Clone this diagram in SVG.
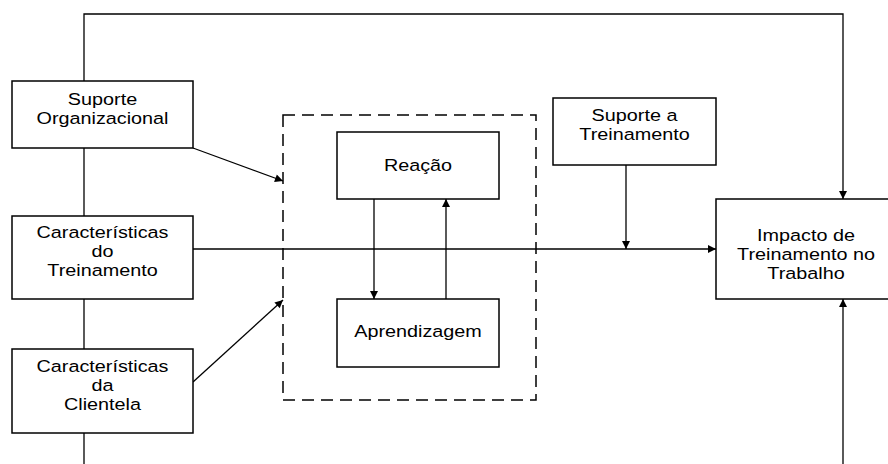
<svg xmlns="http://www.w3.org/2000/svg" width="888" height="464" viewBox="0 0 888 464">
<style>
.box{fill:#fff;stroke:#000;stroke-width:1.5}
.dash{fill:none;stroke:#000;stroke-width:1.5;stroke-dasharray:12 7}
.ln{fill:none;stroke:#000;stroke-width:1.3}
.arr{fill:none;stroke:#000;stroke-width:1.3;marker-end:url(#ah)}
text{font-family:"Liberation Sans",Arial,sans-serif;font-size:16.5px;text-anchor:middle;fill:#000}
</style>
<defs>
<marker id="ah" viewBox="0 0 10 10" refX="10" refY="5" markerWidth="10" markerHeight="8" markerUnits="userSpaceOnUse" orient="auto">
<path d="M0,0 L10,5 L0,10 z" fill="#000"/>
</marker>
</defs>
<rect width="888" height="464" fill="#fff"/>
<g id="connectors">
<polyline class="arr" points="84,81 84,14 843,14 843,199"/>
<line class="ln" x1="84" y1="148" x2="84" y2="216"/>
<line class="ln" x1="84" y1="299" x2="84" y2="349"/>
<line class="ln" x1="84" y1="433" x2="84" y2="464"/>
<line class="arr" x1="843" y1="464" x2="843" y2="299"/>
<line class="arr" x1="193" y1="249" x2="716" y2="249"/>
<line class="arr" x1="626" y1="165" x2="626" y2="249"/>
<line class="arr" x1="193" y1="148" x2="283" y2="181"/>
<line class="arr" x1="193" y1="382" x2="283" y2="300"/>
<line class="arr" x1="374" y1="199" x2="374" y2="299"/>
<line class="arr" x1="446" y1="299" x2="446" y2="199"/>
</g>
<g id="grupo">
<rect class="dash" x="283" y="115" width="253" height="285"/>
</g>
<g id="suporte-organizacional">
<rect class="box" x="12" y="81" width="181" height="67"/>
<g transform="translate(102.5 0) scale(1.2 1)">
<text x="0" y="105.5">Suporte</text>
<text x="0" y="124.5">Organizacional</text>
</g>
</g>
<g id="caracteristicas-treinamento">
<rect class="box" x="12" y="216" width="181" height="83"/>
<g transform="translate(102.5 0) scale(1.2 1)">
<text x="0" y="238.5">Características</text>
<text x="0" y="257.5">do</text>
<text x="0" y="276.5">Treinamento</text>
</g>
</g>
<g id="caracteristicas-clientela">
<rect class="box" x="12" y="349" width="181" height="84"/>
<g transform="translate(102.5 0) scale(1.2 1)">
<text x="0" y="372">Características</text>
<text x="0" y="391">da</text>
<text x="0" y="410">Clientela</text>
</g>
</g>
<g id="reacao">
<rect class="box" x="337" y="132" width="162" height="67"/>
<g transform="translate(418 0) scale(1.2 1)">
<text x="0" y="171">Reação</text>
</g>
</g>
<g id="aprendizagem">
<rect class="box" x="337" y="299" width="162" height="68"/>
<g transform="translate(418 0) scale(1.2 1)">
<text x="0" y="337">Aprendizagem</text>
</g>
</g>
<g id="suporte-treinamento">
<rect class="box" x="553" y="98" width="163" height="67"/>
<g transform="translate(634.5 0) scale(1.2 1)">
<text x="0" y="121.5">Suporte a</text>
<text x="0" y="140.5">Treinamento</text>
</g>
</g>
<g id="impacto">
<rect class="box" x="716" y="199" width="180" height="100"/>
<g transform="translate(806 0) scale(1.2 1)">
<text x="0" y="241">Impacto de</text>
<text x="0" y="260">Treinamento no</text>
<text x="0" y="279">Trabalho</text>
</g>
</g>
</svg>
